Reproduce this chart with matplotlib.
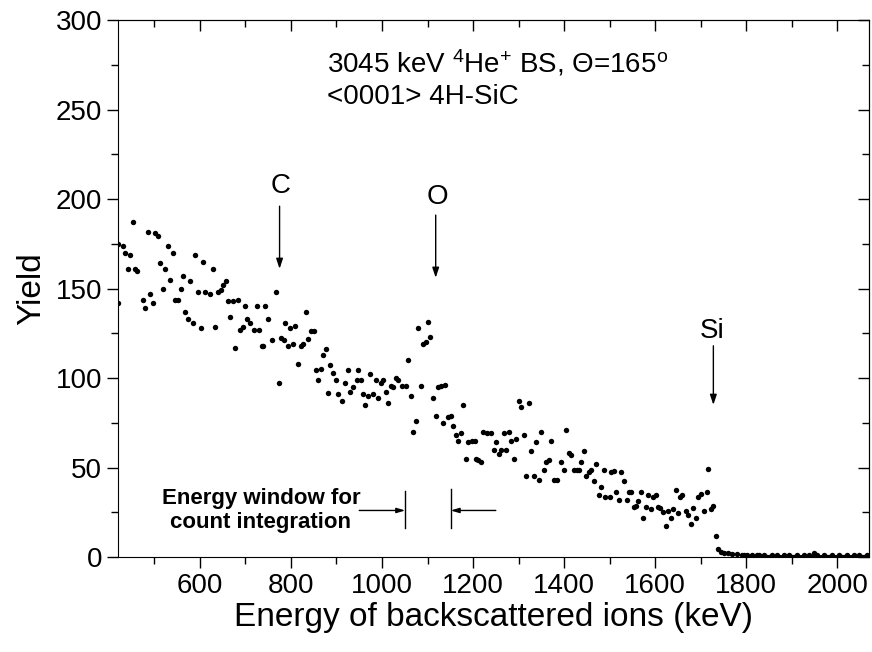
import matplotlib
matplotlib.use("Agg")
import matplotlib.pyplot as plt
from matplotlib.ticker import MultipleLocator

plt.rcParams['font.family'] = ['Liberation Sans', 'DejaVu Sans']
plt.rcParams['mathtext.fontset'] = 'custom'
plt.rcParams['mathtext.rm'] = 'Liberation Sans'
plt.rcParams['mathtext.it'] = 'Liberation Sans'

# RBS spectrum (energy in keV, yield in counts)
energy = [421, 421, 431, 436, 441, 447, 452, 457, 462, 475, 480, 485, 491, 496,
          502, 507, 513, 519, 524, 530, 535, 540, 546, 552, 558, 563, 568, 574,
          579, 585, 590, 596, 602, 607, 612, 623, 628, 634, 640, 646, 651, 657,
          661, 667, 672, 677, 684, 688, 695, 699, 704, 710, 719, 725, 729, 736,
          739, 743, 749, 758, 767, 773, 778, 784, 788, 794, 797, 804, 809, 816,
          821, 827, 832, 838, 845, 851, 855, 860, 865, 871, 876, 882, 886, 892,
          898, 904, 913, 919, 925, 930, 937, 945, 948, 954, 959, 963, 969, 974,
          981, 987, 992, 998, 1003, 1008, 1013, 1020, 1025, 1030, 1036, 1043,
          1052, 1057, 1064, 1069, 1074, 1080, 1085, 1091, 1096, 1101, 1106,
          1113, 1118, 1124, 1130, 1135, 1139, 1146, 1152, 1157, 1162, 1168,
          1174, 1178, 1185, 1190, 1197, 1205, 1207, 1211, 1218, 1223, 1230,
          1240, 1245, 1251, 1256, 1262, 1267, 1273, 1278, 1284, 1289, 1294,
          1300, 1306, 1311, 1317, 1322, 1328, 1333, 1339, 1344, 1349, 1355,
          1360, 1366, 1372, 1377, 1384, 1394, 1399, 1404, 1410, 1416, 1421,
          1428, 1433, 1438, 1443, 1448, 1454, 1460, 1465, 1471, 1476, 1482,
          1487, 1491, 1500, 1504, 1510, 1514, 1520, 1525, 1532, 1538, 1542,
          1547, 1554, 1558, 1563, 1569, 1574, 1580, 1585, 1591, 1596, 1601,
          1606, 1611, 1618, 1624, 1629, 1635, 1640, 1645, 1651, 1655, 1660,
          1668, 1673, 1679, 1684, 1690, 1694, 1701, 1708, 1713, 1717, 1722,
          1728, 1733, 1739, 1745, 1752, 1761, 1770, 1780, 1790,
          1796, 1801, 1807, 1812, 1818, 1823, 1829, 1834, 1840, 1845, 1851,
          1856, 1862, 1867, 1873, 1878, 1884, 1889, 1895, 1900, 1906, 1911,
          1917, 1922, 1928, 1933, 1939, 1944, 1950, 1955, 1961, 1966, 1972,
          1977, 1983, 1988, 1994, 1999, 2005, 2010, 2016, 2021, 2027, 2032,
          2038, 2043, 2049, 2054, 2060, 2065]
counts = [175, 142, 174, 170, 161, 169, 187, 161, 160, 143.6, 139, 181.6, 147, 142,
          181, 179.5, 164, 149.6, 161, 174, 155, 170, 143.6, 143.6, 149.6, 157, 137, 133,
          154, 130.5, 169, 148, 128, 165, 148, 147, 161, 128.7, 148, 149, 152, 154,
          143, 134, 143, 117, 143.6, 127, 128.7, 140, 133, 130.5, 127, 140, 127, 118,
          118, 140, 133, 121, 148, 97, 122.5, 121, 131, 118, 128, 119, 129, 108,
          118, 119, 137, 121.6, 126, 126, 104.5, 99, 105, 113, 116, 91.5, 107, 102.6,
          99, 91, 87, 97, 104.5, 92, 95, 99, 104.5, 99, 91, 85, 90, 102,
          91, 99, 89, 97, 99, 92, 86, 95.5, 95, 100, 99, 95.5,
          95.5, 110, 90, 70, 76, 128, 95.5, 119, 120, 131.5, 123,
          89, 79, 95, 95.5, 75, 96, 78, 79, 73, 68, 65,
          69, 85, 55, 64, 65, 65, 54.6, 54, 53, 70, 69,
          69, 60, 64, 57.5, 60, 69, 60, 70, 65, 54.6, 66,
          87, 84, 68, 45, 86, 59, 45, 64, 43, 70, 48.6,
          53, 54, 65, 43, 43, 53, 48.6, 71, 58, 57, 48.6,
          48.6, 48.6, 53, 59, 45, 47.6, 48.6, 42.6, 52, 34.6, 39,
          48.6, 33.7, 33.7, 47.6, 48, 36.5, 32, 47.6, 42.6, 32, 36.5,
          36.5, 27.7, 28.5, 31.5, 36.5, 21.6, 27.7, 34.6, 26.6, 33.7, 34.6,
          27.7, 27.2, 25.3, 17.3, 25.9, 21.6, 26.6, 37.4, 24.7, 33.7, 34.6,
          25.9, 23.5, 18.4, 27.2, 21.6, 33.7, 35.2, 25.9, 36.5, 49, 26.6,
          28.5, 11.7, 4.3, 3, 2.4, 2, 1.7, 1.5, 1,
          1, 1, 0, 1, 0, 1, 1, 0, 1, 0, 0,
          1, 0, 1, 0, 0, 1, 0, 1, 0, 0, 1,
          0, 0, 1, 0, 1, 0, 2, 1, 0, 0, 1,
          0, 0, 1, 0, 0, 1, 0, 0, 1, 0, 0,
          1, 0, 1, 0, 0, 1]

# element edges: label, label x, label y, arrow x, arrow top, arrow tip
edges = [("C", 777, 207, 775, 196, 161),
         ("O", 1122, 201, 1118, 191, 156),
         ("Si", 1725, 126, 1728, 118, 85)]

fig = plt.figure(figsize=(8.72, 6.52), dpi=100)
ax = fig.add_axes([0.1353, 0.1457, 0.8613, 0.8236])

ax.plot(energy, counts, 'o', color='black', ms=3.9, mec='black', mew=0)

for name, tx, ty, x, y0, y1 in edges:
    ax.text(tx, ty, name, ha='center', va='center', fontsize=20)
    ax.annotate('', xy=(x, y1), xytext=(x, y0),
                arrowprops=dict(arrowstyle='-|>,head_length=0.6,head_width=0.2',
                                color='black', lw=1.0, shrinkA=0, shrinkB=0))

ax.text(879, 276, r'3045 keV $^{4}$He$^{+}$ BS, $\Theta$=165$^{\mathrm{o}}$',
        ha='left', va='center', fontsize=20)
ax.text(879, 257, '<0001> 4H-SiC', ha='left', va='center', fontsize=20)

# integration window markers
ax.text(734, 26, 'Energy window for\ncount integration', ha='center', va='center',
        fontsize=16, fontweight='bold', linespacing=1.15)
ax.plot([1051, 1051], [16, 37], color='black', lw=1.0)
ax.plot([1151, 1151], [16, 38], color='black', lw=1.0)
ax.annotate('', xy=(1051, 26), xytext=(950, 26),
            arrowprops=dict(arrowstyle='-|>,head_length=0.5,head_width=0.15',
                            color='black', lw=1.0, shrinkA=0, shrinkB=0))
ax.annotate('', xy=(1151, 26), xytext=(1250, 26),
            arrowprops=dict(arrowstyle='-|>,head_length=0.5,head_width=0.15',
                            color='black', lw=1.0, shrinkA=0, shrinkB=0))

ax.set_xlim(420, 2070)
ax.set_ylim(0, 300)
ax.xaxis.set_major_locator(MultipleLocator(200))
ax.xaxis.set_minor_locator(MultipleLocator(100))
ax.yaxis.set_major_locator(MultipleLocator(50))
ax.yaxis.set_minor_locator(MultipleLocator(25))
ax.tick_params(which='both', direction='out', top=False, right=False, labelsize=20)
ax.tick_params(which='major', length=8, width=1)
ax.tick_params(which='minor', length=5, width=1)

# inward ticks on the top and right frame
ax2 = ax.secondary_xaxis('top')
ax2.xaxis.set_major_locator(MultipleLocator(200))
ax2.xaxis.set_minor_locator(MultipleLocator(100))
ax2.tick_params(which='both', direction='in', labeltop=False)
ax2.tick_params(which='major', length=8, width=1)
ax2.tick_params(which='minor', length=5, width=1)
ay2 = ax.secondary_yaxis('right')
ay2.yaxis.set_major_locator(MultipleLocator(50))
ay2.yaxis.set_minor_locator(MultipleLocator(25))
ay2.tick_params(which='both', direction='in', labelright=False)
ay2.tick_params(which='major', length=8, width=1)
ay2.tick_params(which='minor', length=5, width=1)

ax.set_xlabel('Energy of backscattered ions (keV)', fontsize=24, labelpad=2)
ax.set_ylabel('Yield', fontsize=24, labelpad=6)

fig.savefig('out.png', dpi=100)
